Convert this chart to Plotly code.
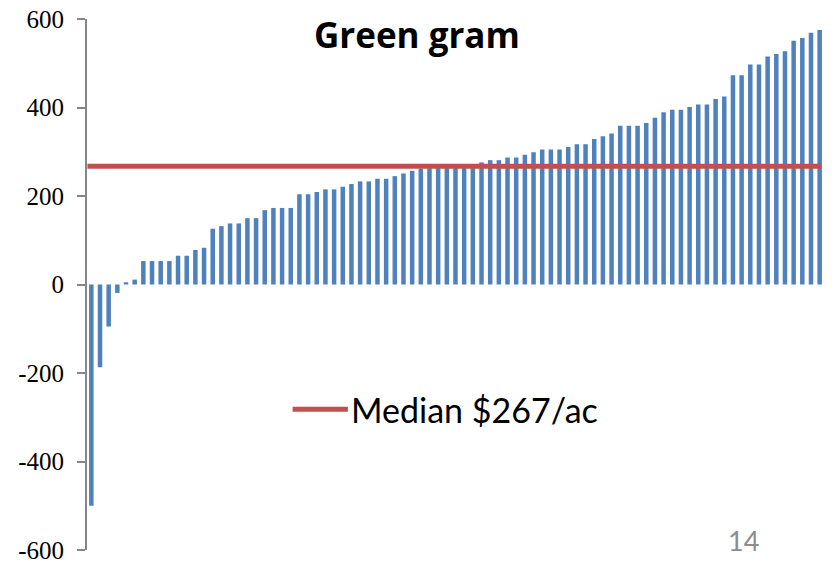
import numpy as np
import plotly.graph_objects as go

# Net returns per field, sorted ascending ($/ac)
net_returns = [
    -500, -187, -95, -19, 5, 11, 53, 53, 53, 53,
    65, 65, 78, 83, 126, 132, 138, 138, 150, 150,
    168, 173, 173, 173, 204, 204, 209, 215, 215, 221,
    227, 233, 233, 239, 239, 245, 251, 257, 262, 263,
    264, 266, 267, 268, 270, 276, 281, 281, 287, 287,
    293, 299, 305, 305, 305, 311, 317, 317, 329, 335,
    341, 359, 359, 359, 365, 377, 389, 395, 395, 401,
    407, 407, 419, 425, 473, 473, 497, 497, 515, 521,
    527, 551, 557, 569, 575,
]
field_index = list(range(len(net_returns)))
y_ticks = [-600, -400, -200, 0, 200, 400, 600]

title_text = "Green gram"
slide_number = "14"

median_value = float(np.median(net_returns))
median_label = f"Median ${median_value:.0f}/ac"

BAR_BLUE = "#4F81BD"
MEDIAN_RED = "#C0504D"
AXIS_GREY = "#868686"

fig = go.Figure()

fig.add_trace(go.Bar(
    x=field_index,
    y=net_returns,
    marker=dict(color=BAR_BLUE, line=dict(width=0)),
    showlegend=False,
))

fig.add_trace(go.Scatter(
    x=[field_index[0] - 0.45, field_index[-1] + 0.2],
    y=[median_value, median_value],
    mode="lines",
    line=dict(color=MEDIAN_RED, width=5),
    showlegend=False,
))

# Legend key: red line sample followed by the median label
fig.add_shape(
    type="line", xref="paper", yref="paper",
    x0=0.279, x1=0.354, y0=0.265, y1=0.265,
    line=dict(color=MEDIAN_RED, width=5),
)
fig.add_annotation(
    x=0.355, y=0.265, xref="paper", yref="paper",
    xanchor="left", yanchor="middle",
    text=median_label, showarrow=False,
    font=dict(family="Lato", size=34, color="#000000"),
)

fig.add_annotation(
    x=0.448, y=0.971, xref="paper", yref="paper",
    xanchor="center", yanchor="middle",
    text=f"<b>{title_text}</b>", showarrow=False,
    font=dict(family="Open Sans", size=35, color="#000000"),
)

fig.add_annotation(
    x=0.891, y=0.017, xref="paper", yref="paper",
    xanchor="center", yanchor="middle",
    text=slide_number, showarrow=False,
    font=dict(family="Lato", size=27, color="#8C8C8C"),
)

fig.update_layout(
    width=836, height=562,
    margin=dict(l=87, r=12, t=19, b=12, autoexpand=False),
    paper_bgcolor="white",
    plot_bgcolor="white",
    bargap=0.48,
    xaxis=dict(
        range=[-0.5, len(net_returns) - 0.5],
        showticklabels=False, showgrid=False, zeroline=False,
        showline=False, ticks="", automargin=False,
    ),
    yaxis=dict(
        range=[-600, 600],
        tickvals=y_ticks,
        ticktext=[str(v) for v in y_ticks],
        showgrid=False, zeroline=False,
        showline=True, linecolor=AXIS_GREY, linewidth=2,
        ticks="outside", ticklen=8, tickwidth=2, tickcolor=AXIS_GREY,
        ticklabelstandoff=8,
        ticklabeloverflow="allow",
        automargin=False,
        tickfont=dict(family="Liberation Serif, Times New Roman, serif",
                      size=25, color="#000000"),
    ),
)

fig.write_html("out.html")
